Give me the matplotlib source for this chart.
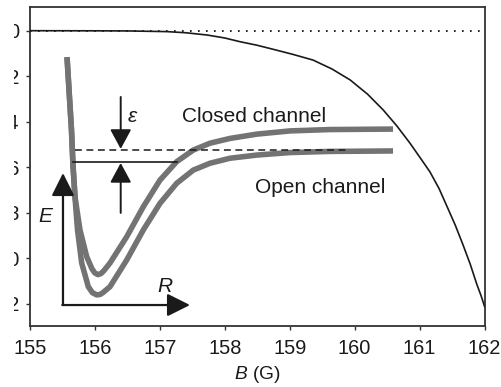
import matplotlib
matplotlib.use('Agg')
import matplotlib.pyplot as plt
from matplotlib.patches import Rectangle

plt.rcParams['font.family'] = ['Liberation Sans', 'DejaVu Sans']
plt.rcParams['mathtext.fontset'] = 'custom'
plt.rcParams['mathtext.rm'] = 'Liberation Sans'
plt.rcParams['mathtext.it'] = 'Liberation Sans:italic'

# Molecular binding energy vs magnetic field
field_B = [155.0, 156.0, 156.5, 157.11, 157.4, 157.73, 158.0, 158.23, 158.5, 158.75,
           159.05, 159.36, 159.65, 159.93, 160.2, 160.44, 160.65, 160.85, 161.0,
           161.16, 161.3, 161.42, 161.55, 161.67, 161.78, 161.88, 161.95, 162.0]
energy_E = [0.0, -0.0005, -0.001, -0.004, -0.009, -0.019, -0.032, -0.048, -0.064, -0.082,
            -0.104, -0.129, -0.168, -0.216, -0.279, -0.348, -0.418, -0.493, -0.554,
            -0.620, -0.693, -0.770, -0.854, -0.941, -1.025, -1.112, -1.166, -1.210]

# Schematic potential curves (drawn in the chart's coordinates)
closed_B = [155.570, 155.601, 155.639, 155.662, 155.693, 155.770, 155.873, 155.955,
            156.000, 156.047, 156.095, 156.140, 156.232, 156.489, 156.745, 157.002,
            157.259, 157.515, 157.772, 158.080, 158.496, 159.004, 159.620, 160.591]
closed_E = [-0.116, -0.260, -0.436, -0.590, -0.730, -0.875, -0.992, -1.046,
            -1.064, -1.071, -1.066, -1.053, -1.020, -0.905, -0.773, -0.656,
            -0.575, -0.524, -0.494, -0.473, -0.454, -0.440, -0.434, -0.432]
open_B = [155.570, 155.601, 155.639, 155.662, 155.693, 155.732, 155.796, 155.898,
          155.960, 156.027, 156.080, 156.124, 156.232, 156.489, 156.745, 157.002,
          157.259, 157.515, 157.772, 158.080, 158.496, 159.004, 159.620, 160.591]
open_E = [-0.116, -0.260, -0.436, -0.590, -0.730, -0.875, -1.020, -1.124,
          -1.150, -1.160, -1.158, -1.150, -1.124, -1.007, -0.875, -0.758,
          -0.670, -0.612, -0.582, -0.560, -0.546, -0.535, -0.530, -0.528]

x_ticks = [155, 156, 157, 158, 159, 160, 161, 162]
y_ticks = [0.0, -0.2, -0.4, -0.6, -0.8, -1.0, -1.2]
y_ticklabels = ['0', '\u22120.2', '\u22120.4', '\u22120.6', '\u22120.8', '\u22121.0', '\u22121.2']

fig = plt.figure(figsize=(5.01, 3.87), dpi=100)
ax = fig.add_axes([30/501, 61/387, 454.5/501, 319.3/387])
ax.set_xlim(155, 162)
ax.set_ylim(-1.2966, 0.1054)

gray = '#737373'
ink = '#1a1a1a'
ax.axhline(0, color='black', lw=1.2, ls=(0, (1, 3.8)), zorder=1)
ax.plot(field_B, energy_E, color=ink, lw=1.2, zorder=3, solid_joinstyle='round')

ax.plot(closed_B, closed_E, color=gray, lw=4.0, solid_capstyle='butt',
        solid_joinstyle='round', zorder=2)
ax.plot(open_B, open_E, color=gray, lw=4.0, solid_capstyle='butt',
        solid_joinstyle='round', zorder=2)

# dashed (closed channel bound state) and solid (threshold) levels
ax.plot([155.693, 159.882], [-0.524, -0.524], color=ink, lw=1.1,
        ls=(0, (4.5, 3)), zorder=4)
ax.plot([155.658, 157.259], [-0.578, -0.578], color=ink, lw=1.2, zorder=4)

def arrow(x0, y0, x1, y1, lw=1.4, hl=12, hw=6.5):
    ax.annotate('', xy=(x1, y1), xytext=(x0, y0),
                arrowprops=dict(arrowstyle=f'-|>,head_length={hl},head_width={hw}',
                                lw=lw, color=ink, shrinkA=0, shrinkB=0,
                                mutation_scale=1), zorder=5)

# epsilon arrows
arrow(156.397, -0.291, 156.397, -0.519)
arrow(156.397, -0.800, 156.397, -0.581)
# E-R axes
arrow(155.508, -1.2045, 155.508, -0.625, lw=1.6, hl=14, hw=7)
arrow(155.497, -1.2045, 157.464, -1.2045, lw=1.6, hl=14, hw=7)

ax.text(156.51, -0.400, '\u03b5', fontsize=15, style='italic', ha='left',
        va='baseline', color=ink)
ax.text(157.341, -0.399, 'Closed channel', fontsize=15, ha='left', va='baseline',
        color=ink)
ax.text(158.465, -0.7125, 'Open channel', fontsize=15, ha='left', va='baseline',
        color=ink)
ax.text(155.231, -0.838, 'E', fontsize=15, style='italic', ha='center',
        va='baseline', color=ink)
ax.text(157.079, -1.146, 'R', fontsize=15, style='italic', ha='center',
        va='baseline', color=ink)

ax.set_xticks(x_ticks)
ax.set_xticklabels([str(t) for t in x_ticks])
ax.set_yticks(y_ticks)
ax.set_yticklabels(y_ticklabels)
ax.tick_params(direction='out', length=3, width=1, labelsize=14.4, pad=5,
               colors='#333333', labelcolor=ink)
ax.tick_params(axis='x', pad=6)
ax.set_xlabel('$B$ (G)', fontsize=13.8, labelpad=5, color=ink)
for s in ax.spines.values():
    s.set_color('#333333')
    s.set_linewidth(1.3)

# the reference image is cropped on the left, hiding most of the y tick labels
fig.add_artist(Rectangle((0, 0), 14/501, 1, transform=fig.transFigure,
                         facecolor='white', edgecolor='none', zorder=10))

fig.savefig('out.png', dpi=100)
